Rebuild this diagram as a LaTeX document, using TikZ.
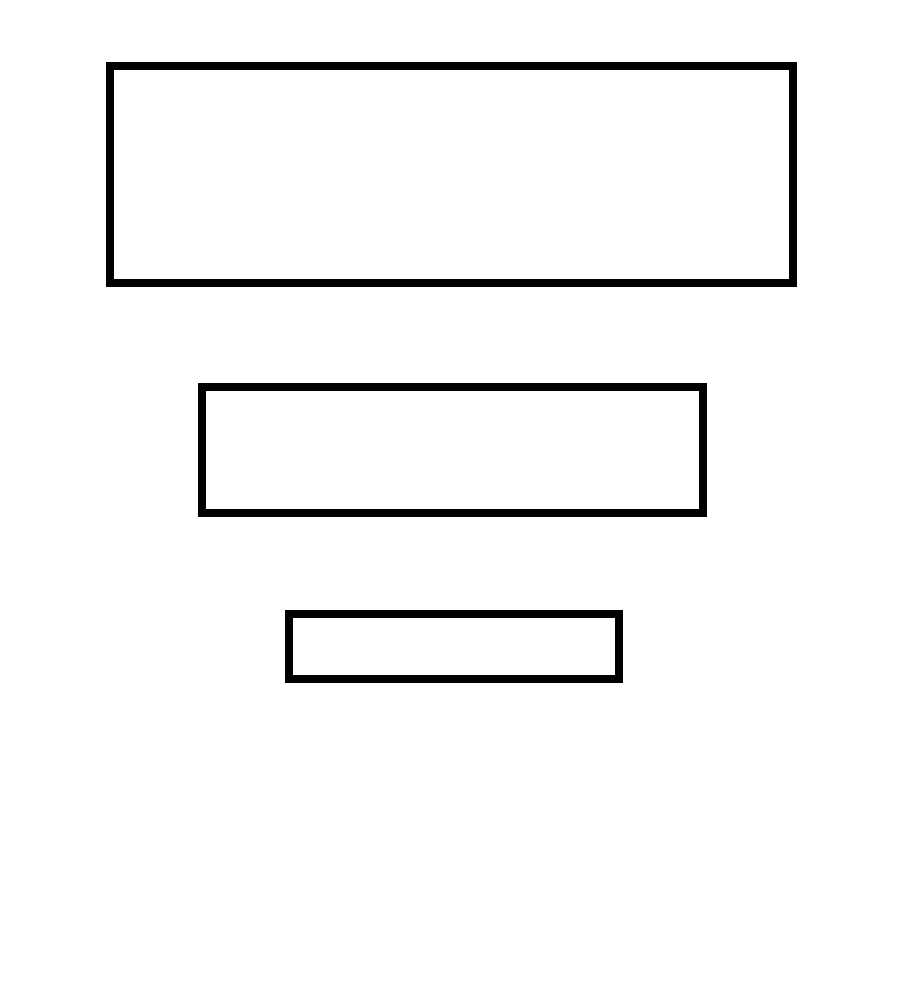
\documentclass[tikz,border=0pt]{standalone}
\begin{document}
\begin{tikzpicture}[x=1pt,y=1pt,
  box/.style={draw=black, line width=8pt, fill=none, inner sep=0pt, outer sep=0pt, rectangle, line join=miter}]
\useasboundingbox (0,0) rectangle (900,-997);
\node[box, minimum width=683.8pt, minimum height=216.5pt] (top) at (451.4,-174.25) {};
\node[box, minimum width=501.3pt, minimum height=126.3pt] (mid) at (452.65,-449.85) {};
\node[box, minimum width=330pt, minimum height=65pt] (bot) at (454,-646.5) {};
\end{tikzpicture}
\end{document}
